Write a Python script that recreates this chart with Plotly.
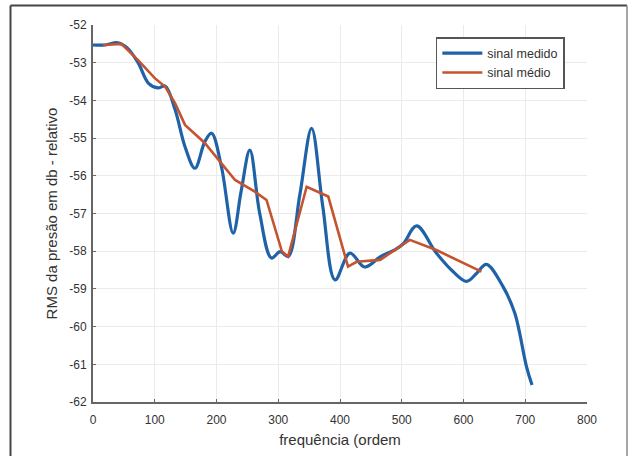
import plotly.graph_objects as go

# measured signal (sinal medido)
freq_medido = [0, 20, 40, 55, 73, 90, 105, 117, 133, 149, 165, 181, 192, 208, 227,
               240, 254, 270, 289, 303, 316, 335, 354, 372, 392, 416, 440, 465, 490,
               503, 524, 556, 583, 605, 621, 637, 664, 683, 702, 711]
rms_medido = [-52.53, -52.53, -52.47, -52.6, -53.0, -53.55, -53.67, -53.62, -54.25,
              -55.23, -55.8, -55.1, -54.87, -55.76, -57.52, -56.4, -55.32, -57.0,
              -58.18, -58.01, -58.14, -56.5, -54.74, -56.8, -58.76, -58.05, -58.42,
              -58.15, -57.95, -57.79, -57.33, -58.05, -58.54, -58.8, -58.59, -58.35,
              -58.94, -59.64, -61.06, -61.55]

# averaged signal (sinal médio)
freq_medio = [16, 46, 73, 100, 117, 133, 149, 181, 208, 230, 262, 281, 306, 316, 346,
              381, 413, 427, 465, 481, 513, 556, 589, 629]
rms_medio = [-52.53, -52.5, -52.93, -53.41, -53.64, -54.08, -54.65, -55.13, -55.67,
             -56.11, -56.42, -56.64, -58.01, -58.14, -56.29, -56.55, -58.41, -58.28,
             -58.23, -58.05, -57.7, -57.97, -58.23, -58.54]

x_ticks = [0, 100, 200, 300, 400, 500, 600, 700, 800]
x_tick_labels = ["0", "100", "200", "300", "400", "500", "600", "700", "800"]
y_ticks = [-62, -61, -60, -59, -58, -57, -56, -55, -54, -53, -52]
y_tick_labels = ["-62", "-61", "-60", "-59", "-58", "-57", "-56", "-55", "-54", "-53", "-52"]

FONT = "Liberation Sans, Arial, sans-serif"

fig = go.Figure()
fig.add_trace(go.Scatter(
    x=freq_medido, y=rms_medido, mode="lines", name="sinal medido",
    line=dict(color="#1f62a8", width=3.2, shape="spline", smoothing=1.0),
))
fig.add_trace(go.Scatter(
    x=freq_medio, y=rms_medio, mode="lines", name="sinal médio",
    line=dict(color="#c4532f", width=2.6),
))

axis_common = dict(
    showgrid=True, gridcolor="#ebebeb", gridwidth=1,
    showline=True, linecolor="#666666", linewidth=2, mirror=False,
    ticks="inside", ticklen=3, tickcolor="#666666", tickwidth=1,
    zeroline=False, automargin=False,
    tickfont=dict(family=FONT, size=12, color="#333333"),
    title_font=dict(family=FONT, size=15, color="#333333"),
)

fig.update_xaxes(range=[0, 800], tickvals=x_ticks, ticktext=x_tick_labels,
                 title_text="frequência (ordem", title_standoff=8,
                 ticklabelstandoff=6, **axis_common)
fig.update_yaxes(range=[-62, -52], tickvals=y_ticks, ticktext=y_tick_labels,
                 title_text="RMS da presão em db - relativo",
                 title_standoff=8, ticklabelstandoff=2, **axis_common)

# outer frame around the figure (open at the bottom)
frame = dict(type="line", xref="paper", yref="paper", layer="above")
fig.add_shape(x0=-0.167, x1=1.081, y0=1.052, y1=1.052,
              line=dict(color="#444444", width=2), **frame)
fig.add_shape(x0=-0.167, x1=-0.167, y0=1.052, y1=-0.2,
              line=dict(color="#444444", width=2), **frame)
fig.add_shape(x0=1.081, x1=1.081, y0=1.052, y1=-0.2,
              line=dict(color="#888888", width=1.5), **frame)

fig.update_layout(
    width=629, height=456,
    margin=dict(l=93, r=42, t=25, b=54),
    paper_bgcolor="white", plot_bgcolor="white",
    font=dict(family=FONT, color="#333333"),
    showlegend=True,
    legend=dict(
        x=0.694, y=0.968, xanchor="left", yanchor="top",
        bgcolor="white", bordercolor="#555555", borderwidth=1.5,
        font=dict(family=FONT, size=12.5, color="#333333"),
        tracegroupgap=0, itemwidth=40,
    ),
)

fig.write_html("out.html")
